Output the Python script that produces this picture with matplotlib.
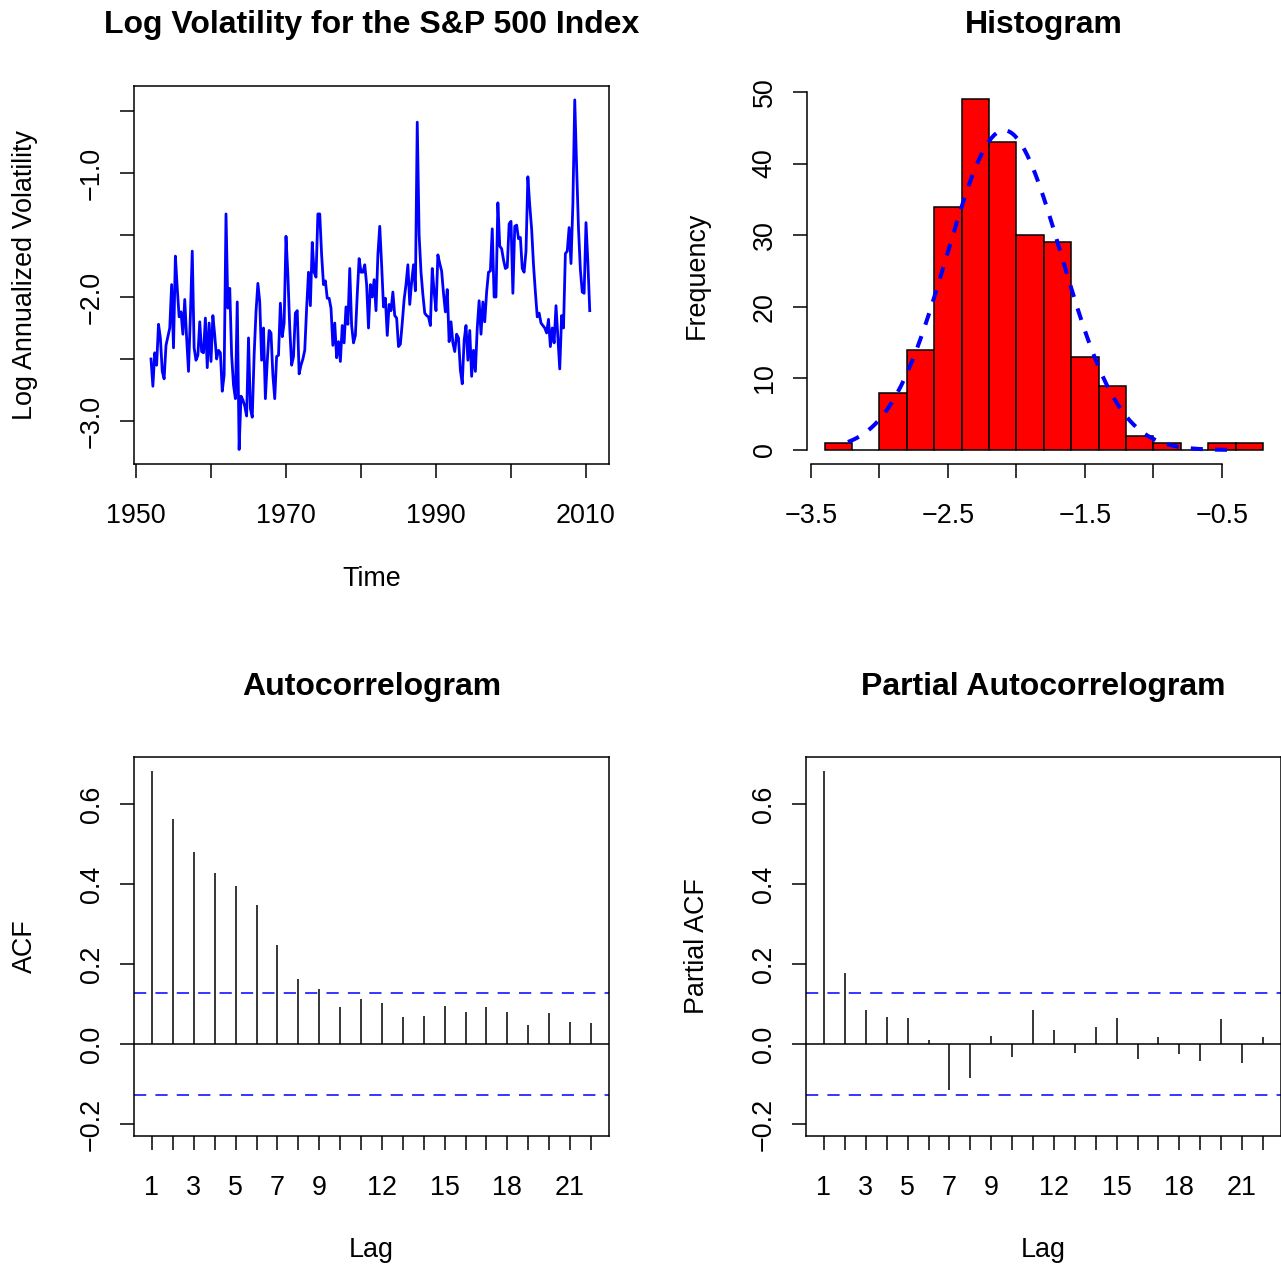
import numpy as np
import matplotlib
matplotlib.use("Agg")
import matplotlib.pyplot as plt

W, H = 1281, 1266

plt.rcParams["font.family"] = ["Liberation Sans", "DejaVu Sans"]

# quarterly log annualized volatility, first quarter 1952 onwards
START_YEAR = 1952.0
LOG_VOL = [
    -2.50, -2.72, -2.45, -2.55, -2.22, -2.33, -2.60, -2.66, -2.39, -2.32,
    -2.25, -1.90, -2.41, -1.67, -1.93, -2.16, -2.12, -2.30, -2.02, -2.33,
    -2.60, -2.15, -1.63, -2.41, -2.51, -2.47, -2.20, -2.44, -2.45, -2.17,
    -2.57, -2.21, -2.52, -2.15, -2.31, -2.50, -2.43, -2.45, -2.76, -2.63,
    -1.33, -2.09, -1.93, -2.47, -2.71, -2.82, -2.04,
    -3.23, -2.80, -2.83, -2.88, -2.96, -2.33, -2.90, -2.97, -2.47, -2.12,
    -1.89, -2.04, -2.51, -2.25, -2.82, -2.52, -2.27, -2.29, -2.63, -2.82,
    -2.48, -2.47, -2.05, -2.32, -2.21, -1.51, -1.82, -2.25, -2.55, -2.48,
    -2.13, -2.11, -2.62, -2.55, -2.50, -2.43, -2.09, -1.80, -2.07, -1.56,
    -1.80, -1.84, -1.33, -1.33, -1.66, -1.90, -1.87, -2.01,
    -2.01, -2.09, -2.39, -2.21, -2.49, -2.36, -2.52, -2.23, -2.37, -2.08,
    -2.22, -1.77, -2.23, -2.37, -2.31, -1.98, -1.69, -1.80, -1.80, -1.74,
    -1.90, -2.25, -1.90, -2.00, -1.86, -2.11, -1.66, -1.43, -1.74, -2.08,
    -2.01, -2.31, -2.06, -2.11, -1.96, -2.15, -2.17, -2.40, -2.38, -2.21,
    -2.02, -1.90, -1.74, -2.06, -1.88, -1.74, -1.95,
    -0.59, -1.50, -1.80, -1.98, -2.13, -2.15, -2.16, -2.23, -1.77, -1.96,
    -2.11, -1.66, -1.73, -1.79, -1.97, -2.12, -1.94, -2.36, -2.20, -2.37,
    -2.44, -2.30, -2.33, -2.59, -2.70, -2.35, -2.23, -2.51, -2.27, -2.64,
    -2.43, -2.60, -2.25, -2.03, -2.30, -2.04, -2.20, -1.96, -1.80, -1.79,
    -1.45, -2.00, -2.00, -1.24, -1.59, -1.61, -1.70, -1.77, -1.76,
    -1.41, -1.39, -1.97, -1.43, -1.42, -1.53, -1.52, -1.77, -1.80, -1.63,
    -1.03, -1.26, -1.45, -1.74, -1.96, -2.16, -2.13, -2.21, -2.23, -2.25,
    -2.29, -2.18, -2.40, -2.25, -2.37, -2.07, -2.33, -2.58, -2.15, -2.25,
    -1.65, -1.63, -1.44, -1.73, -1.25, -0.41, -0.95, -1.45, -1.78, -1.96,
    -1.97, -1.40, -1.72, -2.11,
]

HIST_EDGES = [-3.4, -3.2, -3.0, -2.8, -2.6, -2.4, -2.2, -2.0, -1.8,
              -1.6, -1.4, -1.2, -1.0, -0.8, -0.6, -0.4, -0.2]
HIST_COUNTS = [1, 0, 8, 14, 34, 49, 43, 30, 29, 13, 9, 2, 1, 0, 1, 1]
NORM_MEAN = -2.09
NORM_SD = 0.42

LAGS = list(range(1, 23))
ACF = [0.683, 0.562, 0.479, 0.427, 0.395, 0.348, 0.248, 0.163, 0.137, 0.093, 0.112,
       0.103, 0.068, 0.070, 0.096, 0.079, 0.092, 0.079, 0.048, 0.078, 0.055, 0.053]
PACF = [0.683, 0.177, 0.084, 0.068, 0.066, 0.010, -0.115, -0.086, 0.021, -0.032, 0.084,
        0.035, -0.022, 0.042, 0.064, -0.038, 0.017, -0.025, -0.042, 0.062, -0.047, 0.018]

LAG_LABELS = [1, 3, 5, 7, 9, 12, 15, 18, 21]

FS = 19.4      # tick / axis label size (pt)
FS_TITLE = 23.0
LW = 1.1
TICK_LEN = 10


def minus(s):
    return s.replace("-", "\u2212")


def add_ax(fig, left, top, right, bottom):
    return fig.add_axes([left / W, 1 - bottom / H, (right - left) / W, (bottom - top) / H])


def style_ticks(ax):
    ax.tick_params(axis="both", direction="out", length=TICK_LEN, width=LW,
                   labelsize=FS, color="black")
    ax.tick_params(axis="x", pad=18.4)
    ax.tick_params(axis="y", pad=11.0, labelrotation=90)
    for lab in ax.get_yticklabels():
        lab.set_verticalalignment("center")
    for sp in ax.spines.values():
        sp.set_linewidth(LW)


def correlogram(ax, vals, n):
    ci = 1.96 / np.sqrt(n)
    ax.vlines(LAGS, 0, vals, color="black", lw=LW)
    ax.axhline(0, color="black", lw=LW)
    for c in (ci, -ci):
        ax.axhline(c, color="blue", lw=LW, ls=(0, (8, 6)))
    ax.set_xlim(0.139, 22.86)
    ax.set_ylim(-0.23, 0.7175)
    ax.set_xticks(LAGS)
    ax.set_xticklabels([str(l) if l in LAG_LABELS else "" for l in LAGS])
    yt = [-0.2, 0.0, 0.2, 0.4, 0.6]
    ax.set_yticks(yt)
    ax.set_yticklabels([minus(f"{v:.1f}") for v in yt])
    style_ticks(ax)


fig = plt.figure(figsize=(W / 100, H / 100), dpi=100)

# --- time series ---
ax1 = add_ax(fig, 134, 86, 609, 464)
t = START_YEAR + np.arange(len(LOG_VOL)) / 4.0
ax1.plot(t, LOG_VOL, color="blue", lw=2.0)
ax1.set_xlim(1949.733, 2013.067)
ax1.set_ylim(-3.347, -0.298)
xt = list(range(1950, 2011, 10))
ax1.set_xticks(xt)
ax1.set_xticklabels([str(y) if y in (1950, 1970, 1990, 2010) else "" for y in xt])
yt = [-3.0, -2.5, -2.0, -1.5, -1.0, -0.5]
ax1.set_yticks(yt)
ax1.set_yticklabels([minus(f"{v:.1f}") if v in (-3.0, -2.0, -1.0) else "" for v in yt])
style_ticks(ax1)

# --- histogram ---
ax2 = add_ax(fig, 807, 85, 1281, 464)
widths = np.diff(HIST_EDGES)
ax2.bar(HIST_EDGES[:-1], HIST_COUNTS, width=widths, align="edge",
        color="red", edgecolor="black", lw=LW)
n_obs = sum(HIST_COUNTS)
xs = np.linspace(min(LOG_VOL), max(LOG_VOL), 300)
dens = np.exp(-0.5 * ((xs - NORM_MEAN) / NORM_SD) ** 2) / (NORM_SD * np.sqrt(2 * np.pi))
ax2.plot(xs, dens * n_obs * 0.2, color="blue", lw=2.9, ls=(0, (3, 3)))
ax2.set_xlim(-3.529, -0.069)
ax2.set_ylim(-1.955, 50.98)
xt2 = [-3.5, -3.0, -2.5, -2.0, -1.5, -1.0, -0.5]
ax2.set_xticks(xt2)
ax2.set_xticklabels([minus(f"{v:.1f}") if v in (-3.5, -2.5, -1.5, -0.5) else "" for v in xt2])
ax2.set_yticks(range(0, 51, 10))
ax2.set_yticklabels([str(v) for v in range(0, 51, 10)])
for s in ("top", "right"):
    ax2.spines[s].set_visible(False)
ax2.spines["left"].set_bounds(0, 50)
ax2.spines["bottom"].set_bounds(-3.5, -0.5)
style_ticks(ax2)

# --- ACF / PACF ---
ax3 = add_ax(fig, 134, 757, 609, 1136)
correlogram(ax3, ACF, len(LOG_VOL))
ax4 = add_ax(fig, 806, 757, 1281, 1136)
correlogram(ax4, PACF, len(LOG_VOL))


def ftext(x, y, s, **kw):
    fig.text(x / W, 1 - y / H, s, **kw)


ftext(371.5, 33, "Log Volatility for the S&P 500 Index", ha="center", va="baseline",
      fontsize=FS_TITLE, fontweight="bold")
ftext(1044, 33, "Histogram", ha="center", va="baseline", fontsize=FS_TITLE, fontweight="bold")
ftext(371.5, 695, "Autocorrelogram", ha="center", va="baseline",
      fontsize=FS_TITLE, fontweight="bold")
ftext(1043.5, 695, "Partial Autocorrelogram", ha="center", va="baseline",
      fontsize=FS_TITLE, fontweight="bold")

ftext(371.5, 585.5, "Time", ha="center", va="baseline", fontsize=FS)
ftext(371.5, 1257, "Lag", ha="center", va="baseline", fontsize=FS)
ftext(1043.5, 1257, "Lag", ha="center", va="baseline", fontsize=FS)

ftext(25, 275, "Log Annualized Volatility", ha="center", va="center", rotation=90, fontsize=FS)
ftext(697, 275, "Frequency", ha="center", va="center", rotation=90, fontsize=FS)
ftext(25, 946.5, "ACF", ha="center", va="center", rotation=90, fontsize=FS)
ftext(697, 946.5, "Partial ACF", ha="center", va="center", rotation=90, fontsize=FS)

fig.savefig("out.png", dpi=100)
